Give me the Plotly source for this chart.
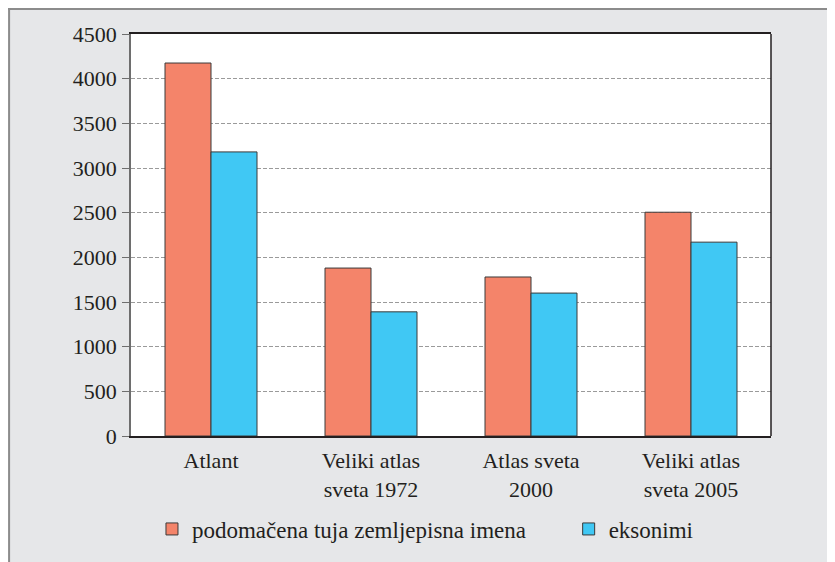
import plotly.graph_objects as go

categories = ["Atlant", "Veliki atlas<br>sveta 1972", "Atlas sveta<br>2000", "Veliki atlas<br>sveta 2005"]
series_names = ["podomačena tuja zemljepisna imena", "eksonimi"]
podomacena = [4175, 1880, 1780, 2505]
eksonimi = [3180, 1390, 1600, 2170]
y_ticks = [0, 500, 1000, 1500, 2000, 2500, 3000, 3500, 4000, 4500]

# the page body adds an 8px offset; work in page pixels and convert
OFF = 8
W, H = 835 - OFF, 562 - OFF
L, R, T, B = 131 - OFF, 771.5 - OFF, 34 - OFF, 436 - OFF

def px_x(p):  # page px -> paper
    return (p - OFF - L) / (R - L)

def px_y(p):
    return (B - (p - OFF)) / (B - T)

FONT = "Liberation Serif"
TXT = "#231f20"
BG = "#e6e7e9"

fig = go.Figure()
fig.add_trace(go.Bar(x=categories, y=podomacena, name=series_names[0],
                     marker=dict(color="#f4846a", line=dict(color="#3a3a3a", width=1)),
                     legend="legend", showlegend=True))
fig.add_trace(go.Bar(x=categories, y=eksonimi, name=series_names[1],
                     marker=dict(color="#40c8f4", line=dict(color="#3a3a3a", width=1)),
                     legend="legend2", showlegend=True))

shapes = [
    dict(type="line", xref="paper", yref="paper", x0=px_x(OFF), x1=px_x(W + OFF + 5), y0=px_y(OFF + 1), y1=px_y(OFF + 1),
         line=dict(color="#8c8c8c", width=2), layer="above"),
    dict(type="line", xref="paper", yref="paper", x0=px_x(OFF + 1), x1=px_x(OFF + 1), y0=px_y(OFF), y1=px_y(H + OFF + 5),
         line=dict(color="#8c8c8c", width=2), layer="above"),
    dict(type="line", xref="paper", yref="paper", x0=1, x1=1, y0=0, y1=1,
         line=dict(color="#231f20", width=1.5), layer="above"),
]

fig.update_layout(
    width=W, height=H,
    margin=dict(l=L, r=W - R, t=T, b=H - B, autoexpand=False),
    paper_bgcolor=BG, plot_bgcolor="white",
    barmode="group", bargap=0.425, bargroupgap=0,
    font=dict(family=FONT, size=22, color=TXT),
    shapes=shapes,
    showlegend=True,
    legend=dict(orientation="v", x=px_x(144 + OFF), y=px_y(529), xanchor="left", yanchor="middle",
                bgcolor="rgba(0,0,0,0)", font=dict(family=FONT, size=23, color=TXT)),
    legend2=dict(orientation="v", x=px_x(561 + OFF), y=px_y(529), xanchor="left", yanchor="middle",
                 bgcolor="rgba(0,0,0,0)", font=dict(family=FONT, size=23, color=TXT)),
    xaxis=dict(showline=True, linecolor="#231f20", linewidth=1.5, mirror=True,
               ticks="", showgrid=False, ticklabelstandoff=4,
               tickfont=dict(family=FONT, size=22, color=TXT)),
    yaxis=dict(range=[0, 4500], tickvals=y_ticks, showline=True, linecolor="#6e6e6e", linewidth=1.5,
               ticks="outside", ticklen=7, tickcolor="#6e6e6e", tickwidth=1.2,
               showgrid=True, gridcolor="#9a9a9a", griddash="4px,2px", gridwidth=1,
               zeroline=False, ticklabelstandoff=1,
               tickfont=dict(family=FONT, size=22, color=TXT)),
)

fig.write_html("out.html")
